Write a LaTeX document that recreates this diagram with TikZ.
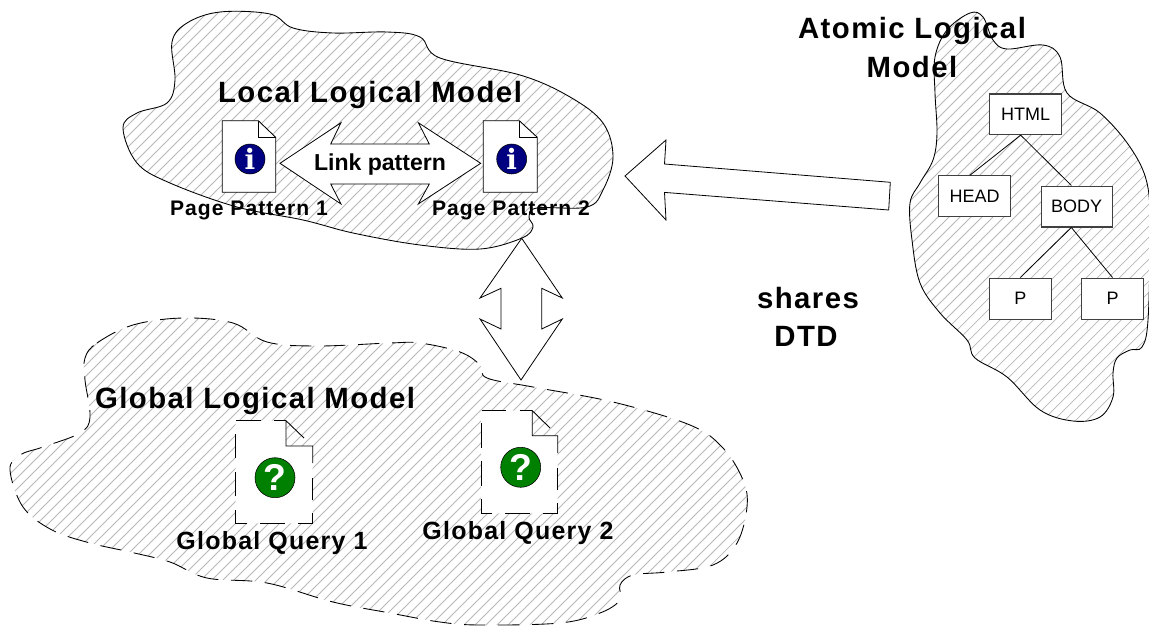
\documentclass[tikz,border=0pt]{standalone}
\usepackage{fontspec}
\setmainfont{Liberation Sans}
\newfontfamily\iconserif{DejaVu Serif}
\newfontfamily\spaced[LetterSpace=5]{Liberation Sans}
\usetikzlibrary{calc}
\definecolor{hatchgray}{gray}{0.72}
\definecolor{infonavy}{RGB}{0,0,128}
\definecolor{querygreen}{RGB}{0,128,0}
\newcommand{\localblob}{plot[smooth cycle,tension=0.6] coordinates {(172,42)(187,23)(220,12)(270,14)(293,28)(333,33)(387,32)(420,37)(440,58)(520,75)(570,97)(603,123)(613,157)(603,190)(587,207)(537,208)(529,217)(533,227)(522,238)(480,249)(420,245)(353,233)(303,220)(237,207)(170,183)(137,163)(123,128)(137,113)(167,103)(175,80)}}
\newcommand{\globalblob}{plot[smooth cycle,tension=0.6] coordinates {(85,358)(97,343)(133,325)(183,318)(233,323)(267,342)(317,346)(390,343)(420,343)(460,352)(480,365)(487,378)(533,387)(613,402)(690,425)(723,448)(743,480)(747,507)(737,543)(713,565)(667,572)(633,575)(620,585)(620,600)(600,613)(560,623)(480,625)(440,622)(390,613)(333,602)(267,583)(207,578)(170,562)(130,552)(90,543)(52,530)(23,507)(10,470)(20,455)(43,447)(80,433)(90,417)(85,380)}}
\newcommand{\atomicblob}{plot[smooth cycle,tension=0.6] coordinates {(935,57)(947,30)(970,13)(983,17)(993,40)(1007,49)(1043,45)(1060,57)(1067,93)(1100,113)(1130,147)(1147,183)(1150,233)(1148,320)(1142,347)(1130,350)(1117,358)(1113,373)(1113,397)(1100,417)(1073,421)(1040,410)(1007,377)(975,358)(967,340)(940,313)(920,283)(912,240)(910,203)(920,183)(933,160)(937,133)(935,93)}}
\newcommand{\hatchfill}[1]{\begin{scope}\clip #1;
\foreach \hh in {0,11,...,1815}{\draw[hatchline] (\hh,0) -- (\hh-650,650);}
\end{scope}}
\tikzset{
  hatchline/.style={hatchgray,line width=0.55pt},
  outline/.style={draw=black,line width=0.65pt},
  dashedline/.style={draw=black,line width=0.65pt,dash pattern=on 16pt off 9.5pt},
  pagedash/.style={draw=black,line width=0.65pt,dash pattern=on 18.5pt off 10pt},
  arrowshape/.style={draw=black,fill=white,line width=0.6pt},
  boxnode/.style={draw=black!75,fill=white,line width=0.8pt,inner sep=0pt,font=\fontsize{13.5}{15}\selectfont},
  treeedge/.style={draw=black,line width=0.6pt},
  infoicon/.style={circle,fill=infonavy,draw=black,line width=0.4pt,minimum size=22.5pt,inner sep=0pt,text=white,font=\iconserif\bfseries\fontsize{21}{21}\selectfont},
  queryicon/.style={circle,fill=querygreen,draw=black,line width=0.4pt,minimum size=30pt,inner sep=0pt,text=white,font=\bfseries\fontsize{28}{28}\selectfont},
  title/.style={font=\spaced\bfseries\fontsize{22}{24}\selectfont,inner sep=0pt},
  sublabel/.style={font=\spaced\bfseries\fontsize{15.8}{18}\selectfont,inner sep=0pt},
  querylabel/.style={font=\spaced\bfseries\fontsize{18.7}{20}\selectfont,inner sep=0pt},
  linklabel/.style={font=\bfseries\fontsize{17.3}{20}\selectfont,inner sep=0pt},
}
\begin{document}
\begin{tikzpicture}[x=0.75pt,y=-0.75pt]
\useasboundingbox (0,0) rectangle (1149,625);
\fill[white] (0,0) rectangle (1149,625);
% blobs
\hatchfill{\localblob}
\draw[outline] \localblob;
\hatchfill{\globalblob}
\draw[dashedline] \globalblob;
\hatchfill{\atomicblob}
\draw[outline] \atomicblob;
% arrows
\draw[arrowshape] (280,163.3) -- (341,122.7) -- (330.7,144) -- (429.3,144) -- (418.3,122.7) -- (480.7,163.3) -- (418.3,204) -- (429.3,184) -- (330.7,184) -- (341,204) -- cycle;
\draw[arrowshape] (521.7,238.3) -- (562.3,298) -- (541.7,288.3) -- (541.7,329) -- (562.3,319) -- (521,380) -- (480,319) -- (501,329) -- (501,288.3) -- (480,298) -- cycle;
\draw[arrowshape] (625,176) -- (666,140) -- (664.5,164) -- (890.3,182.3) -- (888.7,210) -- (664.5,192.4) -- (666,220) -- cycle;
% pages
\draw[outline,fill=white] (222.3,120.7) -- (258.3,120.7) -- (275.7,137.3) -- (275.7,192.3) -- (222.3,192.3) -- cycle;
\draw[outline] (258.3,120.7) -- (258.3,137.3) -- (275.7,137.3);
\draw[outline,fill=white] (483.3,120.7) -- (519.3,120.7) -- (537.3,137.3) -- (537.3,192.3) -- (483.3,192.3) -- cycle;
\draw[outline] (519.3,120.7) -- (519.3,137.3) -- (537.3,137.3);
\node[infoicon] (info1) at (250,159) {i};
\node[infoicon] (info2) at (511.7,159) {i};
% query pages
\fill[white] (235.7,420.7) -- (286,420.7) -- (286,446) -- (312.7,446) -- (312.7,523.3) -- (235.7,523.3) -- cycle;
\draw[outline] (304,438) -- (286,420.7) -- (286,446) -- (312.7,446) -- (312.7,463);
\draw[pagedash,dash phase=2pt] (312.7,478) -- (312.7,523.3) -- (235.7,523.3) -- (235.7,420.7) -- (286,420.7);
\fill[white] (481,410.7) -- (532.3,410.7) -- (532.3,435.7) -- (557.7,435.7) -- (557.7,513.3) -- (481,513.3) -- cycle;
\draw[outline] (550,428) -- (532.3,410.7) -- (532.3,435.7) -- (557.7,435.7) -- (557.7,453);
\draw[pagedash,dash phase=2pt] (557.7,468) -- (557.7,513.3) -- (481,513.3) -- (481,410.7) -- (532.3,410.7);
\node[queryicon] (q1) at (275,477.7) {?};
\node[queryicon] (q2) at (520.7,467.3) {?};
% tree
\node[boxnode,minimum width=54.3pt,minimum height=30.5pt] (html) at (1025.5,114.3) {HTML};
\node[boxnode,minimum width=53.7pt,minimum height=30.7pt] (head) at (974.5,196.2) {HEAD};
\node[boxnode,minimum width=53.5pt,minimum height=30.7pt] (body) at (1076.7,206.5) {BODY};
\node[boxnode,minimum width=46.5pt,minimum height=31pt] (p1) at (1020.3,298.7) {P};
\node[boxnode,minimum width=46.2pt,minimum height=31pt] (p2) at (1112.5,298.7) {P};
\draw[treeedge] ([xshift=-3.6pt]html.south) -- ([xshift=-3.4pt]head.north);
\draw[treeedge] ([xshift=-3.6pt]html.south) -- ([xshift=-4pt]body.north);
\draw[treeedge] ([xshift=-4pt]body.south) -- (p1.north);
\draw[treeedge] ([xshift=-4pt]body.south) -- (p2.north);
% labels
\node[title] (llm) at (370,95) {Local Logical Model};
\node[title] (glm) at (255,400.5) {Global Logical Model};
\node[title] (alm1) at (912,31) {Atomic Logical};
\node[title] (alm2) at (912,67) {Model};
\node[title] (sh1) at (808,298.5) {shares};
\node[title] (sh2) at (806,336) {DTD};
\node[linklabel] (link) at (380,165) {Link pattern};
\node[sublabel] (pp1) at (249,210) {Page Pattern 1};
\node[sublabel] (pp2) at (511,210) {Page Pattern 2};
\node[querylabel] (gq1) at (272,543) {Global Query 1};
\node[querylabel] (gq2) at (518,533) {Global Query 2};
\end{tikzpicture}
\end{document}
